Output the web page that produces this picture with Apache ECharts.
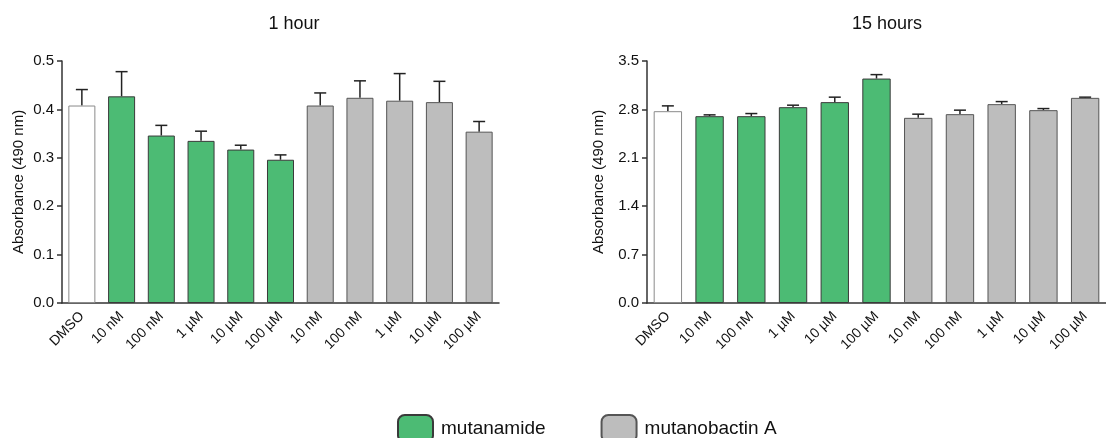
<!DOCTYPE html>
<html>
<head>
<meta charset="utf-8">
<script src="https://cdn.jsdelivr.net/npm/echarts@6/dist/echarts.min.js"></script>
<style>html,body{margin:0;padding:0;background:#fff}#c{width:1106px;height:438px}</style>
</head>
<body>
<div id="c"></div>
<script>
var categories = ['DMSO','10 nM','100 nM','1 µM','10 µM','100 µM','10 nM','100 nM','1 µM','10 µM','100 µM'];
var groups = ['DMSO','mutanamide','mutanamide','mutanamide','mutanamide','mutanamide','mutanobactin A','mutanobactin A','mutanobactin A','mutanobactin A','mutanobactin A'];
var hour1Mean = [0.408,0.427,0.346,0.335,0.317,0.296,0.408,0.424,0.418,0.415,0.354];
var hour1Err  = [0.033,0.051,0.021,0.020,0.009,0.010,0.026,0.035,0.056,0.043,0.021];
var hour15Mean = [2.774,2.702,2.702,2.832,2.905,3.246,2.678,2.731,2.876,2.789,2.967];
var hour15Err  = [0.077,0.019,0.038,0.029,0.072,0.057,0.053,0.058,0.037,0.023,0.010];
var yTicks1 = [0.0,0.1,0.2,0.3,0.4,0.5];
var yTicks15 = [0.0,0.7,1.4,2.1,2.8,3.5];
var titles = ['1 hour','15 hours'];

var FONT = '"Liberation Sans", Arial, sans-serif';
var colors = {'DMSO':'#ffffff','mutanamide':'#4cbb74','mutanobactin A':'#bdbdbd'};
var borders = {'DMSO':'#8a8a8a','mutanamide':'#3a3a3a','mutanobactin A':'#555555'};

function groupData(mean, g){
  return mean.map(function(v,i){ return groups[i]===g ? v : '-'; });
}
function barSeries(mean, gi){
  var names = ['DMSO','mutanamide','mutanobactin A'];
  return names.map(function(n){
    return {
      type:'bar', name:n, xAxisIndex:gi, yAxisIndex:gi, stack:'s'+gi,
      barWidth:'68%', data:groupData(mean,n),
      itemStyle:{color:colors[n], borderColor:borders[n], borderWidth:1},
      emphasis:{disabled:true}, silent:true
    };
  });
}
function errSeries(mean, err, gi){
  return {
    type:'custom', xAxisIndex:gi, yAxisIndex:gi, silent:true, z:1,
    data: mean.map(function(v,i){ return [i, v, v+err[i]]; }),
    renderItem:function(params, api){
      var b = api.coord([api.value(0), api.value(1)]);
      var t = api.coord([api.value(0), api.value(2)]);
      var hw = 6;
      return {type:'group', children:[
        {type:'line', shape:{x1:b[0],y1:b[1],x2:t[0],y2:t[1]}, style:{stroke:'#222',lineWidth:1.5}},
        {type:'line', shape:{x1:t[0]-hw,y1:t[1],x2:t[0]+hw,y2:t[1]}, style:{stroke:'#222',lineWidth:1.5}}
      ]};
    }
  };
}
function xAxis(gi){
  return {
    type:'category', gridIndex:gi, data:categories,
    axisLine:{lineStyle:{color:'#333',width:1.5}},
    axisTick:{alignWithLabel:true, length:5, lineStyle:{color:'#333',width:1.5}},
    axisLabel:{rotate:45, fontFamily:FONT, fontSize:14, color:'#111', margin:11, interval:0}
  };
}
function yAxis(gi, ticks, gap){
  return {
    type:'value', gridIndex:gi, min:ticks[0], max:ticks[ticks.length-1],
    interval:ticks[1]-ticks[0],
    name:'Absorbance (490 nm)', nameLocation:'middle', nameGap:gap,
    nameTextStyle:{fontFamily:FONT, fontSize:15, color:'#111'},
    axisLine:{show:true, lineStyle:{color:'#333',width:1.5}},
    axisTick:{show:true, length:5, lineStyle:{color:'#333',width:1.5}},
    splitLine:{show:false},
    axisLabel:{fontFamily:FONT, fontSize:15, color:'#111', margin:8,
      formatter:function(v){ return v.toFixed(1); }}
  };
}

var chart = echarts.init(document.getElementById('c'), null, {renderer:'canvas'});
chart.setOption({
  animation:false,
  backgroundColor:'#fff',
  title:[
    {text:titles[0], left:289, top:10, textAlign:'center', textStyle:{fontFamily:FONT,fontSize:18,fontWeight:'normal',color:'#111'}},
    {text:titles[1], left:882, top:10, textAlign:'center', textStyle:{fontFamily:FONT,fontSize:18,fontWeight:'normal',color:'#111'}}
  ],
  legend:{
    data:['mutanamide','mutanobactin A'], left:397, top:414, padding:0, itemWidth:35, itemHeight:27,
    itemGap:55, icon:'roundRect',
    textStyle:{fontFamily:FONT, fontSize:19, color:'#111', padding:[0,0,0,3]},
    selectedMode:false
  },
  grid:[
    {left:62, top:61, width:437, height:242},
    {left:647, top:61, width:464, height:242}
  ],
  xAxis:[xAxis(0), xAxis(1)],
  yAxis:[yAxis(0,yTicks1,36), yAxis(1,yTicks15,41)],
  series: [].concat(barSeries(hour1Mean,0), barSeries(hour15Mean,1),
    [errSeries(hour1Mean,hour1Err,0), errSeries(hour15Mean,hour15Err,1)])
});
</script>
</body>
</html>
